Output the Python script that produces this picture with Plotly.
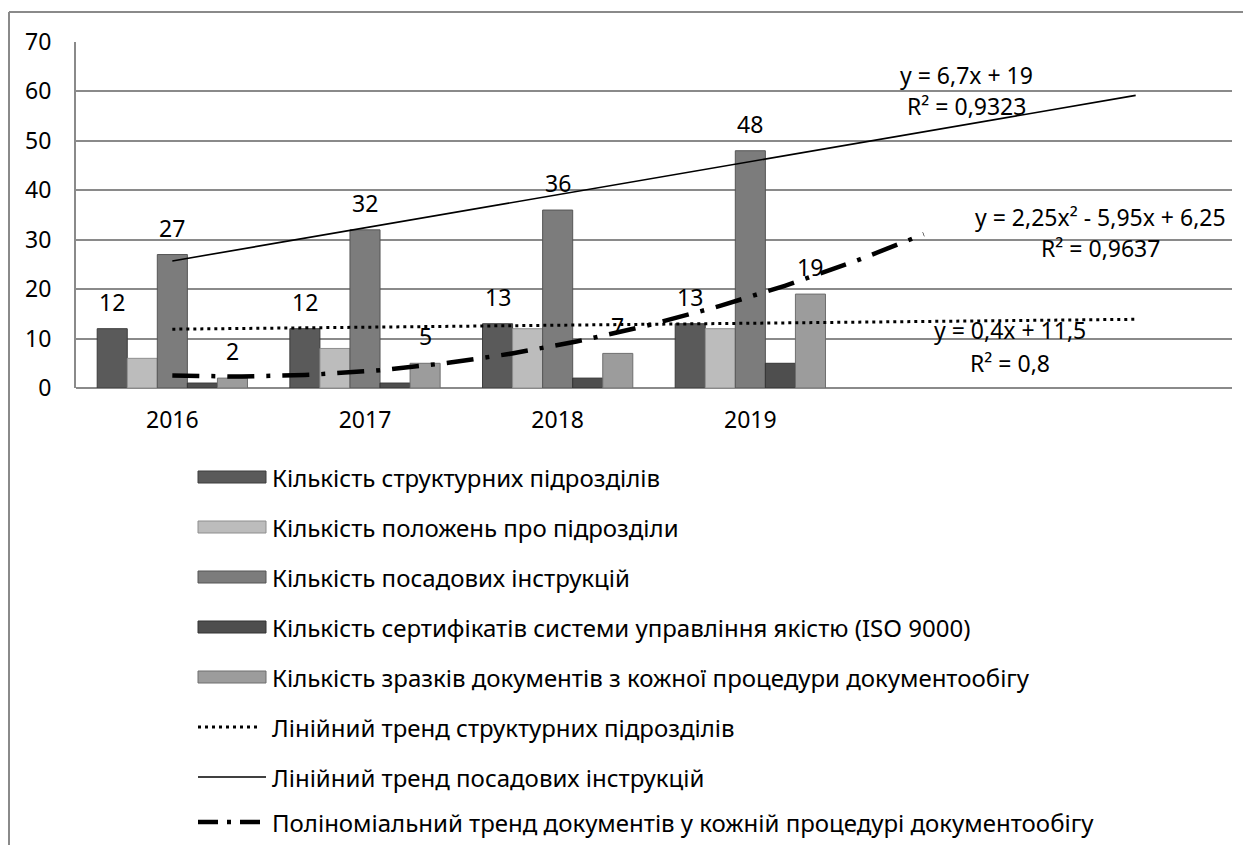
import numpy as np
import plotly.graph_objects as go

# ---------------- data ----------------
years = ["2016", "2017", "2018", "2019"]
x_idx = [1, 2, 3, 4]

struct_units = [12, 12, 13, 13]        # Кількість структурних підрозділів
unit_regs = [6, 8, 12, 12]             # Кількість положень про підрозділи
job_instr = [27, 32, 36, 48]           # Кількість посадових інструкцій
iso_certs = [1, 1, 2, 5]               # Кількість сертифікатів ISO 9000
doc_samples = [2, 5, 7, 19]            # Кількість зразків документів

series_names = [
    "Кількість структурних підрозділів",
    "Кількість положень про підрозділи",
    "Кількість посадових інструкцій",
    "Кількість сертифікатів системи управління якістю (ISO 9000)",
    "Кількість зразків документів з кожної процедури документообігу",
]
trend_names = [
    "Лінійний тренд структурних підрозділів",
    "Лінійний тренд посадових інструкцій",
    "Поліноміальний тренд документів у кожній процедурі документообігу",
]
eq_struct = ["y = 0,4x + 11,5", "R² = 0,8"]
eq_instr = ["y = 6,7x + 19", "R² = 0,9323"]
eq_docs = ["y = 2,25x² - 5,95x + 6,25", "R² = 0,9637"]

y_ticks = [0, 10, 20, 30, 40, 50, 60, 70]

# ---------------- styling ----------------
FONT = "Noto Sans, DejaVu Sans, sans-serif"
FS = 23
FS_LEG = 24
bar_colors = ["#5a5a5a", "#bcbcbc", "#7c7c7c", "#4e4e4e", "#9c9c9c"]
edge_colors = ["#3c3c3c", "#8e8e8e", "#555555", "#333333", "#6e6e6e"]
grid_c = "#8a8a8a"

all_series = [struct_units, unit_regs, job_instr, iso_certs, doc_samples]
labelled = [0, 2, 4]

fig = go.Figure()
for i, (vals, name) in enumerate(zip(all_series, series_names)):
    fig.add_trace(go.Bar(
        x=x_idx, y=vals, name=name,
        marker=dict(color=bar_colors[i], line=dict(color=edge_colors[i], width=1)),
        showlegend=False,
    ))

# trendlines (Excel-style least squares fits of the series)
xs_lin = np.linspace(1, 6, 60)
xs_poly = np.linspace(1, 4.9, 120)
c_struct = np.polyfit(x_idx, struct_units, 1)
c_instr = np.polyfit(x_idx, job_instr, 1)
c_docs = np.polyfit(x_idx, doc_samples, 2)

DOT = "3px,4px"
DASHDOT = "27px,12px,4px,12px"
fig.add_trace(go.Scatter(x=xs_lin, y=np.polyval(c_struct, xs_lin), mode="lines",
                         name=trend_names[0], showlegend=False,
                         line=dict(color="black", width=3, dash=DOT)))
fig.add_trace(go.Scatter(x=xs_lin, y=np.polyval(c_instr, xs_lin), mode="lines",
                         name=trend_names[1], showlegend=False,
                         line=dict(color="black", width=1.6)))
fig.add_trace(go.Scatter(x=xs_poly, y=np.polyval(c_docs, xs_poly), mode="lines",
                         name=trend_names[2], showlegend=False,
                         line=dict(color="black", width=4.5, dash=DASHDOT)))

# geometry (page body has an 8px margin, so figure origin sits at page (8,8))
OFF = 8
W, H = 1243, 837
L, T = 76 - OFF, 42 - OFF
pw, ph = 1156, 346
R, B = W - L - pw, H - T - ph
bargap = 0.22
n_series = len(all_series)
bar_w = (1 - bargap) / n_series

annotations = []
for i in labelled:
    off = (i - (n_series - 1) / 2) * bar_w
    for xv, v in zip(x_idx, all_series[i]):
        annotations.append(dict(x=xv + off, y=v, xref="x", yref="y", text=str(v),
                                showarrow=False, yanchor="middle", yshift=27,
                                font=dict(family=FONT, size=FS, color="black")))

def eq_ann(x, y, text):
    return dict(x=x, y=y, xref="x", yref="y", text=text, showarrow=False,
                xanchor="center", yanchor="middle",
                font=dict(family=FONT, size=FS, color="black"))

annotations += [
    eq_ann(5.12, 63.3, eq_instr[0]), eq_ann(5.12, 57.0, eq_instr[1]),
    eq_ann(5.82, 34.6, eq_docs[0]), eq_ann(5.82, 28.3, eq_docs[1]),
    eq_ann(5.35, 11.7, eq_struct[0]), eq_ann(5.35, 5.1, eq_struct[1]),
]

# page-pixel -> paper coordinate helpers
def px_x(p):
    return (p - OFF - L) / pw

def px_y(p):
    return (T + ph - (p - OFF)) / ph

shapes = []
# outer chart frame (top and left edges visible)
shapes.append(dict(type="line", xref="paper", yref="paper", x0=px_x(9), x1=px_x(1270),
                   y0=px_y(12), y1=px_y(12), line=dict(color="#8a8a8a", width=2)))
shapes.append(dict(type="line", xref="paper", yref="paper", x0=px_x(9), x1=px_x(9),
                   y0=px_y(12), y1=px_y(870), line=dict(color="#8a8a8a", width=2)))

# custom legend (wide swatches as in the original)
leg_y = [477, 527, 577, 627, 677, 727, 777, 822]
sx0, sx1, tx = 198, 266, 270
for k in range(5):
    yc = leg_y[k]
    shapes.append(dict(type="rect", xref="paper", yref="paper",
                       x0=px_x(sx0), x1=px_x(sx1), y0=px_y(yc + 6), y1=px_y(yc - 6),
                       fillcolor=bar_colors[k], line=dict(color=edge_colors[k], width=1)))
    annotations.append(dict(x=px_x(tx), y=px_y(yc), xref="paper", yref="paper",
                            text=series_names[k], showarrow=False, xanchor="left",
                            yanchor="middle", font=dict(family=FONT, size=FS_LEG, color="black")))
leg_lines = [dict(color="black", width=3, dash=DOT),
             dict(color="black", width=1.6),
             dict(color="black", width=4.5, dash="20px,9px,4px,9px")]
for k in range(3):
    yc = leg_y[5 + k]
    shapes.append(dict(type="line", xref="paper", yref="paper",
                       x0=px_x(sx0), x1=px_x(sx1 if k else 258), y0=px_y(yc), y1=px_y(yc),
                       line=leg_lines[k]))
    annotations.append(dict(x=px_x(tx), y=px_y(yc), xref="paper", yref="paper",
                            text=trend_names[k], showarrow=False, xanchor="left",
                            yanchor="middle", font=dict(family=FONT, size=FS_LEG, color="black")))

fig.update_layout(
    width=W, height=H,
    margin=dict(l=L, r=R, t=T, b=B, pad=0, autoexpand=False),
    paper_bgcolor="white", plot_bgcolor="white",
    barmode="group", bargap=bargap, bargroupgap=0,
    font=dict(family=FONT, size=FS, color="black"),
    showlegend=False,
    annotations=annotations, shapes=shapes,
    xaxis=dict(range=[0.5, 6.5], tickmode="array", tickvals=x_idx, ticktext=years,
               showgrid=False, zeroline=False, showline=False, ticks="",
               ticklabelstandoff=16, tickfont=dict(family=FONT, size=FS)),
    yaxis=dict(range=[0, 70], tickmode="array", tickvals=y_ticks,
               showgrid=True, gridcolor=grid_c, gridwidth=2,
               zeroline=True, zerolinecolor=grid_c, zerolinewidth=2,
               showline=True, linecolor=grid_c, linewidth=2, ticks="",
               ticklabelstandoff=18, tickfont=dict(family=FONT, size=FS)),
)

fig.write_html("out.html")
